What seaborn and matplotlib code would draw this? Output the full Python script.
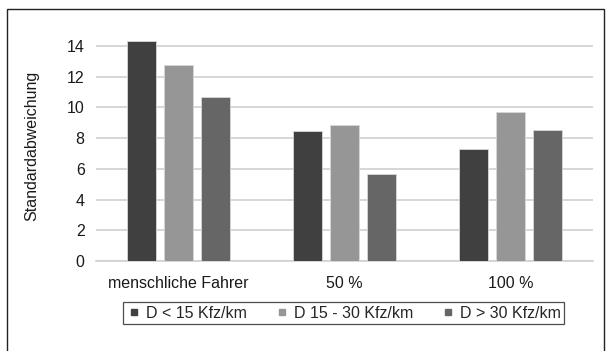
import numpy as np
import pandas as pd
import matplotlib
matplotlib.use("Agg")
import matplotlib.pyplot as plt
import seaborn as sns
from matplotlib.patches import Rectangle
from matplotlib.lines import Line2D

# Werte
gruppen = ["menschliche Fahrer", "50 %", "100 %"]
serien = ["D < 15 Kfz/km", "D 15 - 30 Kfz/km", "D > 30 Kfz/km"]
d_unter_15 = [14.35, 8.46, 7.29]
d_15_30 = [12.76, 8.83, 9.68]
d_ueber_30 = [10.70, 5.69, 8.53]
farben = ["#404040", "#969696", "#666666"]

df = pd.DataFrame({
    "Gruppe": gruppen * 3,
    "Serie": [serien[0]] * 3 + [serien[1]] * 3 + [serien[2]] * 3,
    "Wert": d_unter_15 + d_15_30 + d_ueber_30,
})

sns.set_theme(style="white")
plt.rcParams["font.family"] = ["Liberation Sans", "DejaVu Sans"]

fig = plt.figure(figsize=(6.06, 3.51), dpi=100)
ax = fig.add_axes([0.158, 0.256, 0.821, 0.657])

sns.barplot(data=df, x="Gruppe", y="Wert", hue="Serie", order=gruppen,
            hue_order=serien, palette=farben, width=0.67, gap=0.23,
            edgecolor="#d8d8d8", linewidth=0.6, ax=ax, legend=False, zorder=3)

ax.set_ylim(0, 15)
ax.set_xlim(-0.5, 2.5)
ax.set_yticks(range(0, 15, 2))
ax.yaxis.grid(True, color="#d0d0d0", linewidth=1.2, zorder=0)
ax.set_axisbelow(True)
for s in ["top", "right", "left"]:
    ax.spines[s].set_visible(False)
ax.spines["bottom"].set_color("#d0d0d0")
ax.spines["bottom"].set_linewidth(1.2)
ax.tick_params(axis="both", length=0, labelsize=11.5, colors="#1a1a1a", pad=8)
ax.tick_params(axis="x", pad=11)
ax.set_xlabel("")
ax.set_ylabel("Standardabweichung", fontsize=11.5, color="#1a1a1a", labelpad=20)

handles = [Line2D([], [], marker="s", linestyle="", markersize=4.5,
                  markerfacecolor=c, markeredgecolor=c) for c in farben]
leg = fig.legend(handles, serien, loc="center", bbox_to_anchor=(0.567, 0.108),
                 ncol=3, frameon=True, fontsize=11.5, handletextpad=0.3,
                 columnspacing=1.75, borderpad=0.2, borderaxespad=0,
                 fancybox=False, handlelength=0.9)
leg.get_frame().set_edgecolor("#222222")
leg.get_frame().set_linewidth(0.9)

# Rahmen um das Diagramm
fig.patches.append(Rectangle((7 / 606, -0.05), 597 / 606, 1 - 9 / 351 + 0.05,
                             transform=fig.transFigure, fill=False,
                             edgecolor="#222222", linewidth=1.0))

fig.savefig("out.png", dpi=100)
